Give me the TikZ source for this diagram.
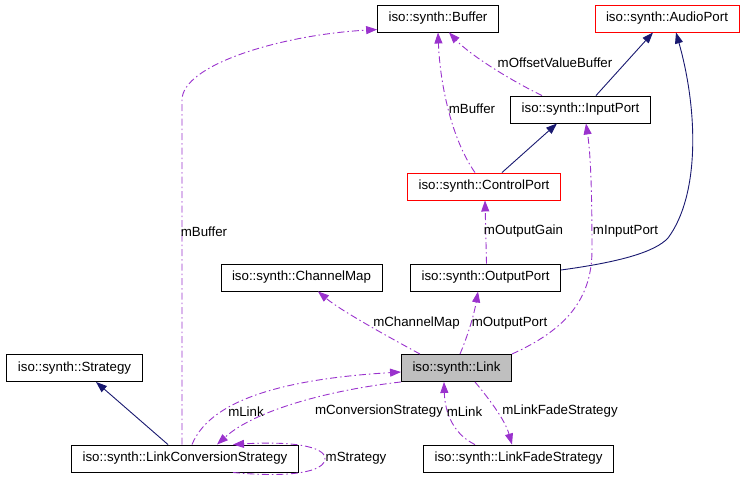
\documentclass[tikz,border=0pt]{standalone}
\usepackage{fontspec}
\setmainfont{Liberation Sans}
\usetikzlibrary{arrows.meta}
\definecolor{usecol}{HTML}{9A32CD}
\definecolor{isacol}{HTML}{191970}
\definecolor{focuscol}{HTML}{BFBFBF}
\begin{document}
\begin{tikzpicture}[x=1pt, y=-1pt,
  cls/.style={draw=black, line width=0.9pt, minimum height=27pt, inner xsep=11pt,
              font=\fontsize{13.3}{16}\selectfont},
  undoc/.style={cls, draw=red},
  focus/.style={cls, fill=focuscol},
  uses/.style={usecol, line width=0.9pt, dash pattern=on 7pt off 3pt on 1.5pt off 3pt,
               -{Triangle[length=11pt, width=8pt]}},
  isa/.style={isacol, line width=0.9pt, -{Triangle[length=11pt, width=8pt]}},
  lbl/.style={font=\fontsize{13.3}{16}\selectfont, inner sep=1pt}]
\useasboundingbox (0,0) rectangle (745,485);
% ---- classes ----
\node[cls]   (buffer)     at (438,18.5)  {iso::synth::Buffer};
\node[undoc] (audioport)  at (667,18.5)  {iso::synth::AudioPort};
\node[cls]   (inputport)  at (580.5,109.5) {iso::synth::InputPort};
\node[undoc] (controlport) at (484,186.5) {iso::synth::ControlPort};
\node[cls]   (channelmap) at (301.5,277.5) {iso::synth::ChannelMap};
\node[cls]   (outputport) at (485.5,277.5) {iso::synth::OutputPort};
\node[cls]   (strategy)   at (74.5,368)  {iso::synth::Strategy};
\node[focus] (link)       at (456.5,368) {iso::synth::Link};
\node[cls]   (lcs)        at (185,458.5) {iso::synth::LinkConversionStrategy};
\node[cls]   (lfs)        at (518.5,458.5) {iso::synth::LinkFadeStrategy};
% ---- inheritance (solid, dark blue) ----
\draw[isa] ([xshift=15.5pt]inputport.north) -- ([xshift=-14pt]audioport.south);
\draw[isa] ([xshift=18pt]controlport.north) -- ([xshift=-23.5pt]inputport.south);
\draw[isa] ([yshift=7.5pt]outputport.east)
  .. controls (620,262) and (655,252) .. (668,238)
  .. controls (700,195) and (698,110) .. ([xshift=9pt]audioport.south);
\draw[isa] ([xshift=-17pt]lcs.north) -- ([xshift=21.5pt]strategy.south);
% ---- usage (dashed, purple) ----
\draw[uses] ([xshift=-38.5pt]inputport.north)
  .. controls (510,80) and (470,55) .. ([xshift=11pt]buffer.south);
\node[lbl] (lOffset) at (555,63) {mOffsetValueBuffer};
\draw[uses] ([xshift=-9pt]controlport.north)
  .. controls (452,140) and (440,85) .. (buffer.south);
\node[lbl] (lBufTop) at (472,108.5) {mBuffer};
\draw[uses] ([xshift=1pt]outputport.north) -- ([xshift=1pt]controlport.south);
\node[lbl] (lGain) at (523.5,231.5) {mOutputGain};
\draw[uses] (link.north east)
  .. controls (565,330) and (592,300) .. (592,250)
  .. controls (592,180) and (590,150) .. ([xshift=5.5pt]inputport.south);
\node[lbl] (lInput) at (625.5,231.5) {mInputPort};
\draw[uses] ([xshift=-36.5pt]link.north)
  .. controls (385,335) and (340,310) .. ([xshift=16.5pt]channelmap.south);
\node[lbl] (lChan) at (416.5,323) {mChannelMap};
\draw[uses] ([xshift=3.5pt]link.north)
  .. controls (468,335) and (474,315) .. ([xshift=-7.5pt]outputport.south);
\node[lbl] (lOut) at (509.5,323) {mOutputPort};
% left column: strategy to buffer
\draw[uses] ([xshift=-3pt]lcs.north) -- (182,100)
  .. controls (182,65) and (280,35) .. ([yshift=-11pt]buffer.west);
\node[lbl] (lBufLeft) at (204,231.5) {mBuffer};
\draw[uses] ([xshift=7pt]lcs.north)
  .. controls (212,395) and (300,378) .. ([yshift=-4pt]link.west);
\node[lbl] (lLinkL) at (246,411.5) {mLink};
\draw[uses] (link.south west)
  .. controls (330,390) and (255,410) .. ([xshift=32pt]lcs.north);
\node[lbl] (lConv) at (379,411.5) {mConversionStrategy};
\draw[uses] ([xshift=48pt]lcs.south)
  .. controls (290,478) and (325,472) .. (325,458.5)
  .. controls (325,446) and (290,441) .. ([xshift=48pt]lcs.north);
\node[lbl] (lStrat) at (356,458.5) {mStrategy};
% right bottom: fade strategy
\draw[uses] ([xshift=-43.5pt]lfs.north)
  .. controls (455,435) and (445,415) .. ([xshift=-12.5pt]link.south);
\node[lbl] (lLinkR) at (464.5,411.5) {mLink};
\draw[uses] ([xshift=18.5pt]link.south)
  .. controls (490,400) and (505,420) .. ([xshift=-6.5pt]lfs.north);
\node[lbl] (lFade) at (560,411.5) {mLinkFadeStrategy};
\end{tikzpicture}
\end{document}
